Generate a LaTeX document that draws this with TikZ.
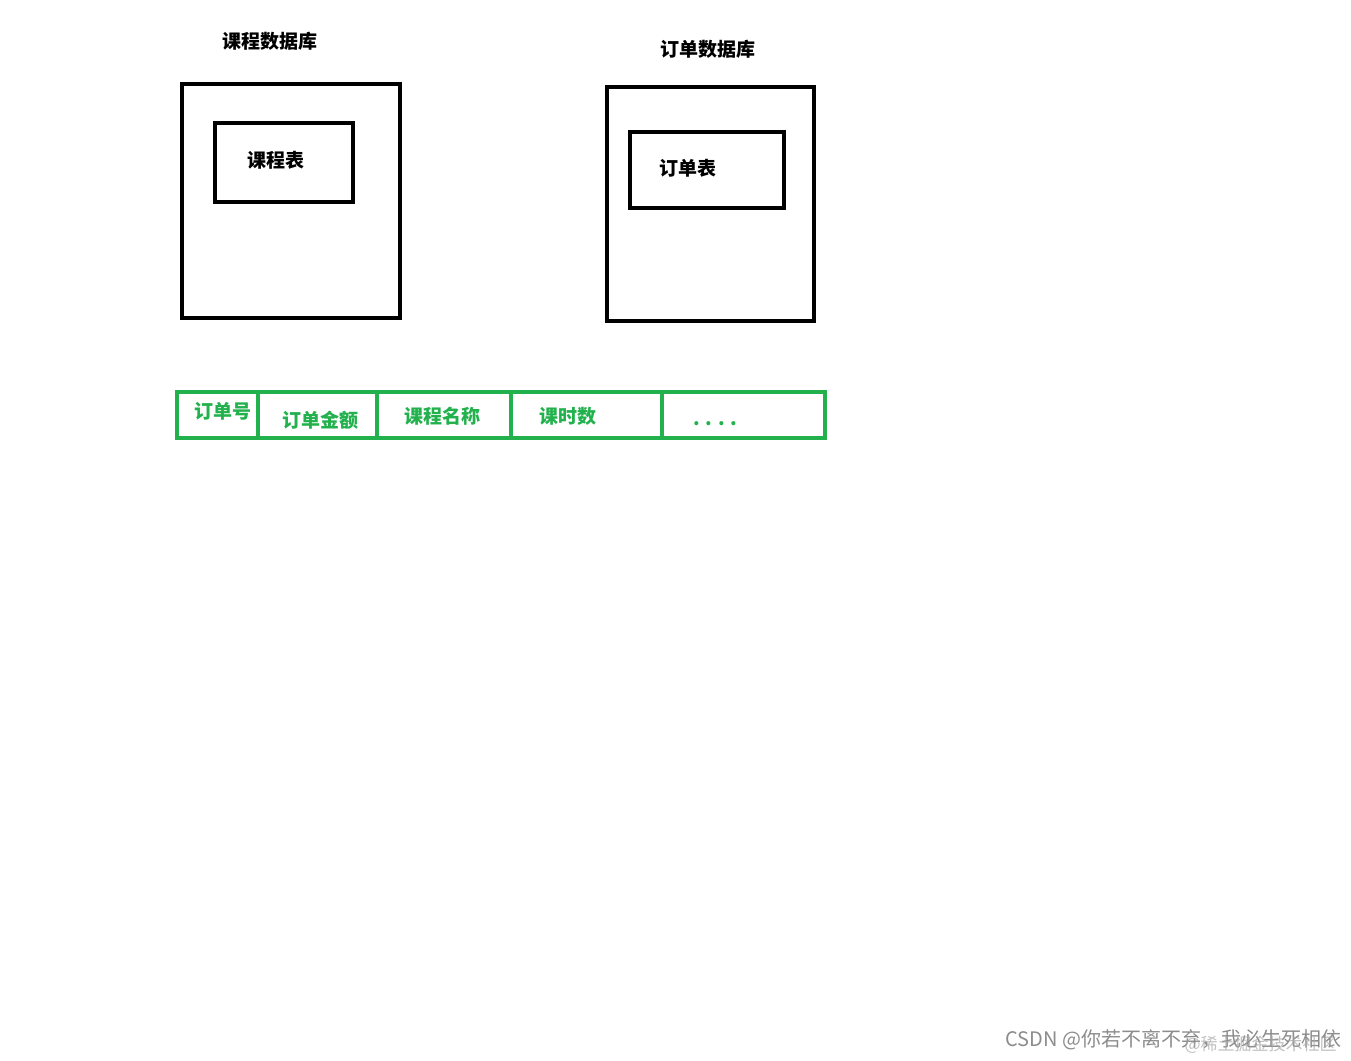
\documentclass[tikz,border=0pt]{standalone}
\usepackage{fontspec}
\usepackage{xcolor}
\usepackage{tikz}
\newfontfamily\cjk{Noto Sans CJK SC}
\definecolor{paintgreen}{HTML}{22B14C}

\begin{document}
\begin{tikzpicture}[x=1pt, y=-1pt,
  every node/.style={font=\cjk\bfseries\fontsize{19}{21}\selectfont},
  dbbox/.style={draw=black, line width=4pt, inner sep=0pt},
  cell/.style={draw=paintgreen, line width=4pt, inner sep=0pt, minimum height=46pt},
  field/.style={text=paintgreen}]

\useasboundingbox (0,0) rectangle (1351,1060);

% 课程数据库
\node (kcdbtitle) at (269.5,41) {课程数据库};
\node[dbbox, minimum width=218pt, minimum height=234pt] (kcdb) at (291,201) {};
\node[dbbox, minimum width=138pt, minimum height=79pt] (kctab) at (284,162.5) {};
\node (kctabtext) at (275.5,160) {课程表};

% 订单数据库
\node (dddbtitle) at (708,49) {订单数据库};
\node[dbbox, minimum width=207pt, minimum height=234pt] (dddb) at (710.5,204) {};
\node[dbbox, minimum width=154pt, minimum height=76pt] (ddtab) at (707,170) {};
\node (ddtabtext) at (687.5,168) {订单表};

% 字段
\node[cell, minimum width=81pt] (c1) at (217.5,415) {};
\node[cell, minimum width=119pt] (c2) at (317.5,415) {};
\node[cell, minimum width=134pt] (c3) at (444,415) {};
\node[cell, minimum width=151pt] (c4) at (586.5,415) {};
\node[cell, minimum width=163pt] (c5) at (743.5,415) {};

\node[field] (f1) at (223,411) {订单号};
\node[field] (f2) at (320.5,420) {订单金额};
\node[field] (f3) at (442,416) {课程名称};
\node[field] (f4) at (568,416) {课时数};
\node[field] (f5) at (715.5,424) {. . . .};

% 水印
\node[anchor=west, font=\cjk\fontsize{20}{22}\selectfont, text=black!45] (wm1) at (1002,1040) {CSDN @你若不离不弃，我必生死相依};
\node[anchor=west, font=\cjk\fontsize{17}{19}\selectfont, text=black!35, opacity=0.7] (wm2) at (1181,1045) {@稀土掘金技术社区};

\end{tikzpicture}
\end{document}
